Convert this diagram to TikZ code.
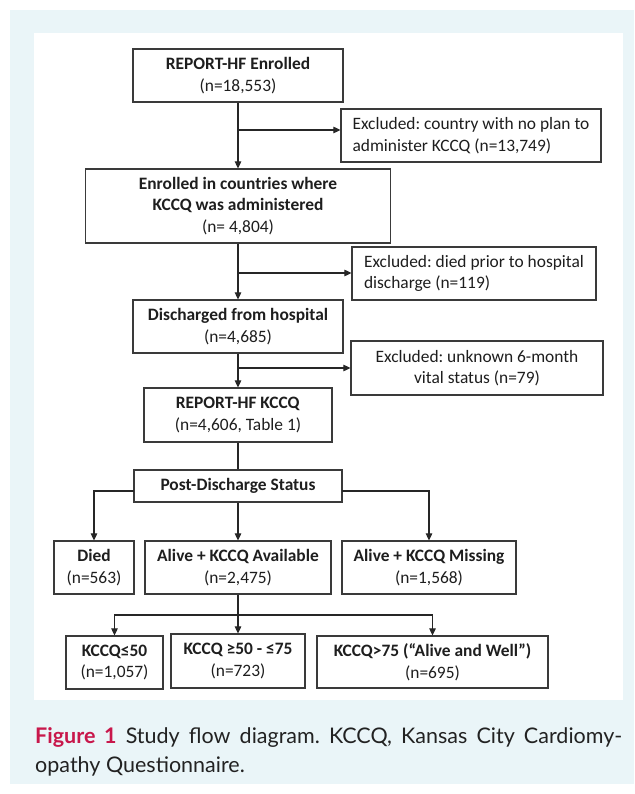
\documentclass[tikz,border=0pt]{standalone}
\usepackage{fontspec}
\setmainfont{Carlito}
\newfontfamily\capfont{Lato}
\usetikzlibrary{arrows.meta}
\definecolor{bgblue}{HTML}{EAF5F8}
\definecolor{figred}{HTML}{C8174B}
\definecolor{boxline}{HTML}{3A3A3A}
\definecolor{txt}{HTML}{1E1E1E}
\definecolor{captxt}{HTML}{222222}
\begin{document}
\frenchspacing
\begin{tikzpicture}[x=1pt,y=-1pt,
  fbox/.style={draw=boxline, line width=1.2pt, fill=white, text=txt, inner sep=0pt, align=center, font=\fontsize{17.4}{21.5}\selectfont},
  lbox/.style={fbox, align=left},
  conn/.style={draw=black!85, line width=1.1pt},
  arr/.style={conn, -{Triangle[length=7pt,width=6.5pt]}},
  captext/.style={anchor=base west, inner sep=0pt, text=captxt, font=\capfont\fontsize{21.5}{29}\selectfont}]
\useasboundingbox (0,0) rectangle (634,794);
\fill[bgblue] (10,10) rectangle (634,784);
\fill[white] (34,33) rectangle (623,700);

% main column
\node[fbox, minimum width=210pt, minimum height=53pt] (b1) at (238,75.5) {\textbf{REPORT-HF Enrolled}\\(n=18,553)};
\node[lbox, minimum width=260pt, minimum height=53pt] (b2) at (471,135.5) {Excluded: country with no plan to\\administer KCCQ (n=13,749)};
\node[fbox, minimum width=305pt, minimum height=74pt] (b3) at (238,206) {\textbf{Enrolled in countries where}\\\textbf{KCCQ was administered}\\(n= 4,804)};
\node[lbox, minimum width=244pt, minimum height=53pt] (b4) at (474,273.5) {Excluded: died prior to hospital\\discharge (n=119)};
\node[fbox, minimum width=210pt, minimum height=53pt] (b5) at (238,326.5) {\textbf{Discharged from hospital}\\(n=4,685)};
\node[fbox, minimum width=252pt, minimum height=54pt] (b6) at (477,368) {Excluded: unknown 6-month\\vital status (n=79)};
\node[fbox, minimum width=188pt, minimum height=54pt] (b7) at (238,415) {\textbf{REPORT-HF KCCQ}\\(n=4,606, Table 1)};
\node[fbox, minimum width=208pt, minimum height=32pt] (b8) at (238,486) {\textbf{Post-Discharge Status}};

% status row
\node[fbox, minimum width=80pt, minimum height=53pt] (b9) at (94,567.5) {\textbf{Died}\\(n=563)};
\node[fbox, minimum width=186pt, minimum height=53pt] (b10) at (238,567.5) {\textbf{Alive + KCCQ Available}\\(n=2,475)};
\node[fbox, minimum width=174pt, minimum height=53pt] (b11) at (429,567.5) {\textbf{Alive + KCCQ Missing}\\(n=1,568)};

% KCCQ row
\node[fbox, minimum width=97pt, minimum height=53pt] (b12) at (114.5,662.5) {\textbf{KCCQ≤50}\\(n=1,057)};
\node[fbox, minimum width=134pt, minimum height=54pt] (b13) at (238,661) {\textbf{KCCQ ≥50 - ≤75}\\(n=723)};
\node[fbox, minimum width=231pt, minimum height=52pt] (b14) at (432.5,662) {\textbf{KCCQ>75 (“Alive and Well”)}\\(n=695)};

% connectors
\coordinate (j1) at (238,130);
\coordinate (j2) at (238,273);
\coordinate (j3) at (238,368);
\coordinate (l8) at (134,491);
\coordinate (r8) at (342,491);
\coordinate (j4) at (238,615);

\draw[arr] (b1) -- (b3);
\draw[arr] (j1) -- (j1 -| b2.west);
\draw[arr] (b3) -- (b5);
\draw[arr] (j2) -- (j2 -| b4.west);
\draw[arr] (b5) -- (b7);
\draw[arr] (j3) -- (j3 -| b6.west);
\draw[conn] (b7) -- (b8);
\draw[arr] (l8) -| (b9.north);
\draw[arr] (b8) -- (b10);
\draw[arr] (r8) -| (b11.north);
\draw[conn] (b10.south) -- (j4);
\draw[arr] (j4) -| (b12.north);
\draw[arr] (j4) -- (b13.north);
\draw[arr] (j4) -| (b14.north);

% caption
\node[captext] (cap1) at (35,743) {\makebox[587pt][s]{\textcolor{figred}{\bfseries Figure 1} Study flow diagram. KCCQ, Kansas City Cardiomy-}};
\node[captext] (cap2) at (35,772) {opathy Questionnaire.};
\end{tikzpicture}
\end{document}
